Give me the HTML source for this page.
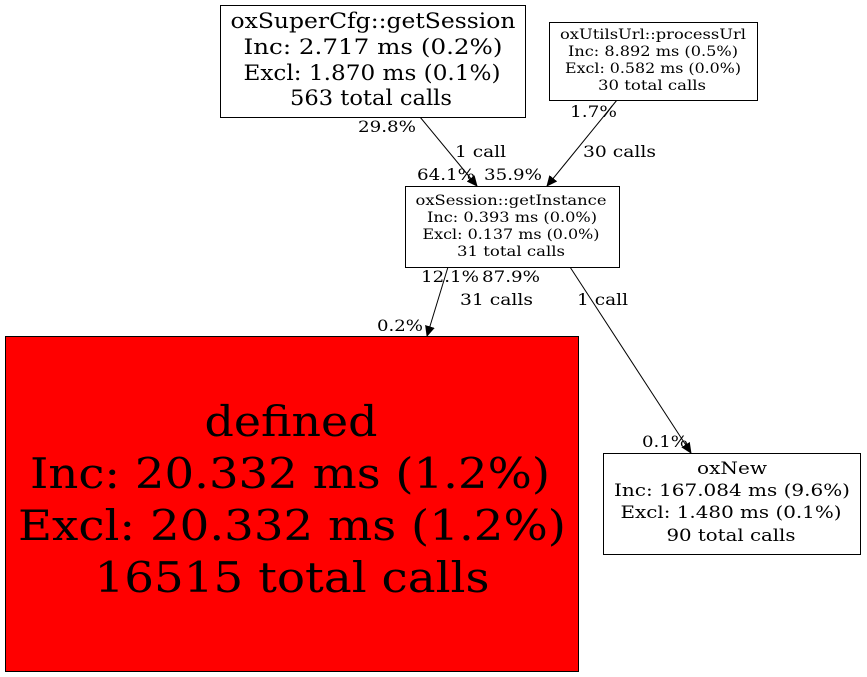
<!DOCTYPE html>
<html><head><meta charset="utf-8"><style>
html,body{margin:0;padding:0;background:#fff;}
svg{display:block;font-family:"DejaVu Serif","Liberation Serif",serif;}
</style></head><body>
<svg width="867" height="677" viewBox="0 0 867 677" xmlns="http://www.w3.org/2000/svg">
<defs><marker id="a" markerWidth="11" markerHeight="10" refX="10" refY="5" orient="auto" markerUnits="userSpaceOnUse"><path d="M0,0 L11,5 L0,10 Z" fill="#000"/></marker></defs>
<rect width="867" height="677" fill="#fff"/>
<g stroke="#000" stroke-width="1" fill="none">
<line x1="420" y1="117" x2="477" y2="186" marker-end="url(#a)"/>
<line x1="617" y1="100" x2="547" y2="186" marker-end="url(#a)"/>
<line x1="448" y1="267" x2="427" y2="336" marker-end="url(#a)"/>
<line x1="570" y1="267" x2="691" y2="453" marker-end="url(#a)"/>
</g>
<g text-anchor="middle">
<rect x="220.5" y="5.5" width="305" height="112" fill="#fff" stroke="#000"/>
<g font-size="21">
<text x="373" y="28" textLength="285" lengthAdjust="spacingAndGlyphs">oxSuperCfg::getSession</text>
<text x="373" y="54" textLength="259" lengthAdjust="spacingAndGlyphs">Inc: 2.717 ms (0.2%)</text>
<text x="372" y="80" textLength="257" lengthAdjust="spacingAndGlyphs">Excl: 1.870 ms (0.1%)</text>
<text x="371" y="105" textLength="162" lengthAdjust="spacingAndGlyphs">563 total calls</text>
</g>
<rect x="549.5" y="22.5" width="208" height="78" fill="#fff" stroke="#000"/>
<g font-size="14">
<text x="653" y="39" textLength="186" lengthAdjust="spacingAndGlyphs">oxUtilsUrl::processUrl</text>
<text x="653" y="56" textLength="170" lengthAdjust="spacingAndGlyphs">Inc: 8.892 ms (0.5%)</text>
<text x="653" y="73" textLength="176" lengthAdjust="spacingAndGlyphs">Excl: 0.582 ms (0.0%)</text>
<text x="652" y="90" textLength="108" lengthAdjust="spacingAndGlyphs">30 total calls</text>
</g>
<rect x="405.5" y="186.5" width="214" height="81" fill="#fff" stroke="#000"/>
<g font-size="14">
<text x="511" y="205" textLength="191" lengthAdjust="spacingAndGlyphs">oxSession::getInstance</text>
<text x="512" y="222" textLength="170" lengthAdjust="spacingAndGlyphs">Inc: 0.393 ms (0.0%)</text>
<text x="511" y="239" textLength="177" lengthAdjust="spacingAndGlyphs">Excl: 0.137 ms (0.0%)</text>
<text x="511" y="256" textLength="108" lengthAdjust="spacingAndGlyphs">31 total calls</text>
</g>
<rect x="5.5" y="336.5" width="573" height="335" fill="#ff0000" stroke="#000"/>
<g font-size="42">
<text x="291" y="436" textLength="173" lengthAdjust="spacingAndGlyphs">defined</text>
<text x="290" y="488" textLength="520" lengthAdjust="spacingAndGlyphs">Inc: 20.332 ms (1.2%)</text>
<text x="292" y="540" textLength="548" lengthAdjust="spacingAndGlyphs">Excl: 20.332 ms (1.2%)</text>
<text x="292" y="592" textLength="395" lengthAdjust="spacingAndGlyphs">16515 total calls</text>
</g>
<rect x="603.5" y="453.5" width="257" height="101" fill="#fff" stroke="#000"/>
<g font-size="17">
<text x="732" y="474" textLength="70" lengthAdjust="spacingAndGlyphs">oxNew</text>
<text x="732" y="496" textLength="236" lengthAdjust="spacingAndGlyphs">Inc: 167.084 ms (9.6%)</text>
<text x="731" y="518" textLength="221" lengthAdjust="spacingAndGlyphs">Excl: 1.480 ms (0.1%)</text>
<text x="731" y="541" textLength="129" lengthAdjust="spacingAndGlyphs">90 total calls</text>
</g>
</g>
<g font-size="16">
<text x="358" y="132" textLength="58" lengthAdjust="spacingAndGlyphs">29.8%</text>
<text x="455" y="157" textLength="51" lengthAdjust="spacingAndGlyphs">1 call</text>
<text x="417" y="180" textLength="58" lengthAdjust="spacingAndGlyphs">64.1%</text>
<text x="484" y="180" textLength="58" lengthAdjust="spacingAndGlyphs">35.9%</text>
<text x="570" y="117" textLength="47" lengthAdjust="spacingAndGlyphs">1.7%</text>
<text x="583" y="157" textLength="73" lengthAdjust="spacingAndGlyphs">30 calls</text>
<text x="421" y="282" textLength="58" lengthAdjust="spacingAndGlyphs">12.1%</text>
<text x="482" y="282" textLength="58" lengthAdjust="spacingAndGlyphs">87.9%</text>
<text x="460" y="305" textLength="73" lengthAdjust="spacingAndGlyphs">31 calls</text>
<text x="577" y="305" textLength="51" lengthAdjust="spacingAndGlyphs">1 call</text>
<text x="377" y="331" textLength="46" lengthAdjust="spacingAndGlyphs">0.2%</text>
<text x="642" y="447" textLength="46" lengthAdjust="spacingAndGlyphs">0.1%</text>
</g>
</svg>
</body></html>
